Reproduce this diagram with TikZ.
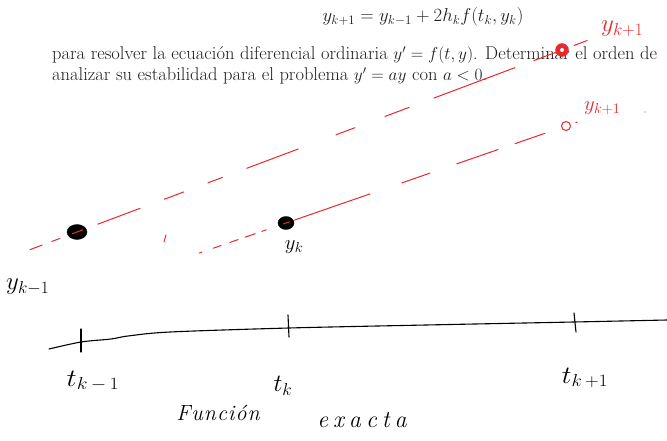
\documentclass[tikz,border=0pt]{standalone}
\usepackage{amsmath}
\usetikzlibrary{calc,shapes.geometric}
\definecolor{ink}{RGB}{30,30,30}
\definecolor{pen}{RGB}{232,40,45}
\newcommand{\spaced}[2]{\def\sep{\kern#1}#2}
\tikzset{
  printed/.style={anchor=base west, inner sep=0pt, text=ink, font=\fontsize{18.5}{22}\selectfont},
  redstroke/.style={draw=pen, line width=1pt, line cap=round},
  blackstroke/.style={draw=black, line width=1.1pt, line cap=round},
  bdot/.style={ellipse, fill=black, draw=black, inner sep=0pt},
  hand/.style={inner sep=0pt, font=\fontsize{22}{24}\selectfont},
  redhand/.style={hand, text=pen},
}
\begin{document}
\begin{tikzpicture}[x=1pt,y=-1pt]
\useasboundingbox (0,0) rectangle (667,441);
\clip (0,0) rectangle (667,441);
% printed text
\node[anchor=base, inner sep=0pt, text=ink, font=\fontsize{17.28}{20}\selectfont] (eq) at (423,22) {\scalebox{1.08}{$y_{k+1}=y_{k-1}+2h_kf(t_k,y_k)$}};
\node[printed] (l1) at (52,60) {para resolver la ecuación diferencial ordinaria $y'=f(t,y)$. Determinar el orden de};
\node[printed] (l2) at (52,81) {analizar su estabilidad para el problema $y'=ay$ con $a<0$.};
% dots
\node[bdot, minimum width=20pt, minimum height=15pt] (A) at (77,232) {};
\node[bdot, minimum width=16pt, minimum height=13pt] (B) at (286,223) {};
\node[circle, fill=pen, draw=pen, minimum size=13pt, inner sep=0pt] (C) at (562,50) {};
\node[circle, draw=pen, line width=1pt, minimum size=9pt, inner sep=0pt] (D) at (566,126) {};
\fill[white] (C) circle (2pt);
% upper dashed red line
\foreach \a/\b in {-0.097/-0.072, -0.052/-0.035, -0.01/0.012, 0.043/0.13, 0.18/0.22, 0.27/0.30, 0.35/0.456, 0.534/0.573, 0.635/0.685, 0.736/0.903, 0.942/0.99, 1.025/1.052}
  \draw[redstroke] ($(A)!\a!(C)$) -- ($(A)!\b!(C)$);
% lower dashed red line
\foreach \a/\b in {-0.31/-0.30, -0.26/-0.232, -0.20/-0.171, -0.146/-0.11, -0.086/-0.071, -0.01/0.012, 0.03/0.30, 0.414/0.514, 0.61/0.757, 0.818/0.925, 1.035/1.04}
  \draw[redstroke] ($(B)!\a!(D)$) -- ($(B)!\b!(D)$);
\draw[redstroke] (166,235) -- (164,242);
% red labels
\node[redhand, anchor=west, font=\fontsize{26}{28}\selectfont] (lc) at (601,29) {$y_{k+1}$};
\node[redhand, anchor=west] (ld) at (584,108) {$y_{k+1}$};
\fill[pen] (645,112) circle (0.7pt);
% black labels
\node[hand, anchor=west, font=\fontsize{25}{27}\selectfont] (la) at (6,287) {$y_{k-1}$};
\node[hand] (lb) at (294,247) {$y_k$};
% axis
\draw[blackstroke] plot[smooth] coordinates {(49,349) (81,342) (111,339) (128,336) (170,332) (289,328) (426,325) (574,322) (667,320)};
\draw[blackstroke] (81,329) -- (81,352);
\draw[blackstroke] (288,315) -- (289,337);
\draw[blackstroke] (574,313) -- (576,332);
\node[hand, font=\fontsize{24}{26}\selectfont] (ta) at (93,381) {\scalebox{1.15}[1]{$t_{k\,-\,1}$}};
\node[hand, font=\fontsize{24}{26}\selectfont] (tb) at (283,386) {$t_k$};
\node[hand, font=\fontsize{24}{26}\selectfont] (tc) at (585,378) {\scalebox{1.1}[1]{$t_{k\,+1}$}};
\node[hand, font=\itshape\fontsize{22}{24}\selectfont] (f1) at (218,413) {F\kern1pt u\kern1pt n\kern1pt c\kern1pt i\kern1pt ó\kern1pt n};
\node[hand, font=\itshape\fontsize{24}{26}\selectfont] (f2) at (362,420) {e\kern5pt x\kern5pt a\kern5pt c\kern5pt t\kern5pt a};
\end{tikzpicture}
\end{document}
